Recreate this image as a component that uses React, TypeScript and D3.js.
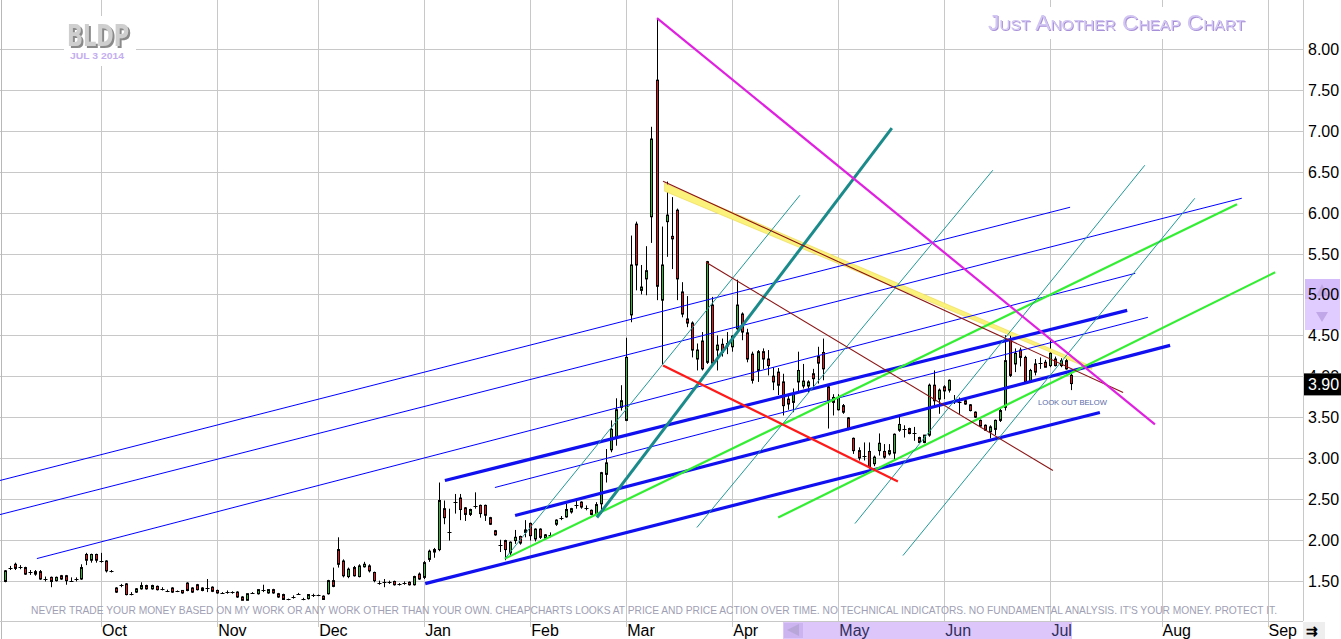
import React from "react";
import * as d3 from "d3";

const W = 1341;
const H = 639;
const START = -19;

// OHLC bars [open, high, low, close] per month (trading-day order)
const sepBars = [
  [1.49,1.63,1.48,1.62],[1.65,1.68,1.63,1.66],[1.70,1.72,1.63,1.65],[1.67,1.69,1.64,1.66],
  [1.66,1.67,1.57,1.58],[1.61,1.63,1.57,1.61],[1.58,1.63,1.56,1.61],[1.61,1.63,1.51,1.52],
  [1.52,1.55,1.49,1.51],[1.54,1.55,1.42,1.49],[1.50,1.55,1.49,1.54],[1.56,1.57,1.51,1.52],
  [1.56,1.57,1.45,1.50],[1.50,1.54,1.49,1.50],[1.52,1.54,1.49,1.53],[1.52,1.70,1.51,1.66],
  [1.82,1.84,1.69,1.75],[1.75,1.83,1.72,1.82],[1.82,1.83,1.72,1.75],
];
const octBars = [
  [1.75,1.84,1.72,1.74],[1.74,1.75,1.60,1.62],[1.62,1.63,1.60,1.62],[1.41,1.42,1.35,1.36],
  [1.44,1.46,1.42,1.45],[1.46,1.47,1.32,1.33],[1.34,1.36,1.32,1.34],[1.36,1.41,1.35,1.40],
  [1.40,1.48,1.39,1.44],[1.44,1.45,1.39,1.40],[1.40,1.45,1.39,1.44],[1.43,1.44,1.38,1.39],
  [1.40,1.42,1.38,1.40],[1.37,1.39,1.36,1.37],[1.41,1.42,1.35,1.36],[1.37,1.38,1.36,1.37],
  [1.38,1.38,1.34,1.35],[1.47,1.48,1.37,1.38],[1.41,1.42,1.35,1.36],[1.45,1.46,1.38,1.39],
  [1.41,1.42,1.37,1.38],[1.41,1.52,1.36,1.41],[1.42,1.43,1.36,1.37],
];
const novBars = [
  [1.38,1.39,1.34,1.35],[1.35,1.36,1.34,1.35],[1.36,1.38,1.34,1.36],[1.36,1.37,1.34,1.36],
  [1.36,1.37,1.29,1.30],[1.30,1.31,1.26,1.26],[1.26,1.34,1.26,1.34],[1.35,1.36,1.34,1.35],
  [1.34,1.39,1.33,1.39],[1.38,1.45,1.36,1.38],[1.35,1.39,1.34,1.39],[1.39,1.40,1.34,1.35],
  [1.34,1.35,1.29,1.30],[1.33,1.34,1.27,1.27],[1.27,1.28,1.26,1.27],[1.30,1.32,1.28,1.30],
  [1.34,1.35,1.33,1.34],[1.28,1.29,1.26,1.28],[1.28,1.33,1.27,1.33],[1.33,1.34,1.30,1.31],
];
const decBars = [
  [1.32,1.33,1.31,1.32],[1.31,1.32,1.27,1.27],[1.34,1.51,1.33,1.50],[1.50,1.66,1.42,1.43],
  [1.88,2.03,1.66,1.70],[1.74,1.76,1.54,1.56],[1.55,1.66,1.53,1.64],[1.66,1.68,1.55,1.56],
  [1.55,1.70,1.54,1.68],[1.67,1.73,1.66,1.70],[1.68,1.70,1.60,1.62],[1.60,1.61,1.48,1.50],
  [1.48,1.50,1.45,1.47],[1.48,1.52,1.42,1.48],[1.49,1.50,1.46,1.47],[1.49,1.50,1.44,1.45],
  [1.46,1.47,1.44,1.46],[1.46,1.49,1.45,1.48],[1.48,1.49,1.44,1.45],[1.45,1.56,1.44,1.55],
  [1.58,1.60,1.51,1.52],
];
const janBars = [
  [1.54,1.74,1.52,1.72],[1.76,1.88,1.73,1.86],[1.88,1.90,1.78,1.85],[1.88,2.70,1.86,2.48],
  [2.38,2.48,2.19,2.27],[2.09,2.38,1.99,2.10],[2.46,2.56,2.32,2.47],[2.51,2.56,2.24,2.37],
  [2.39,2.40,2.23,2.31],[2.31,2.38,2.29,2.37],[2.41,2.58,2.38,2.42],[2.42,2.43,2.27,2.32],
  [2.42,2.43,2.23,2.30],[2.27,2.28,2.18,2.19],[2.11,2.12,2.05,2.06],[1.93,2.00,1.85,1.93],
  [1.99,2.00,1.75,1.88],[1.84,1.98,1.80,1.97],[1.99,2.12,1.95,2.03],[2.04,2.05,1.94,1.96],
  [2.09,2.24,2.03,2.12],
];
const febBars = [
  [2.20,2.21,1.99,2.05],[2.01,2.14,1.98,2.13],[2.13,2.14,2.01,2.03],[2.02,2.07,2.00,2.06],
  [2.06,2.09,2.03,2.06],[2.19,2.25,2.17,2.24],[2.26,2.29,2.24,2.27],[2.28,2.44,2.27,2.37],
  [2.34,2.39,2.32,2.38],[2.42,2.48,2.38,2.42],[2.46,2.47,2.38,2.40],[2.39,2.42,2.36,2.39],
  [2.36,2.37,2.30,2.31],[2.31,2.46,2.30,2.43],[2.44,2.83,2.32,2.82],[2.80,3.11,2.70,2.94],
  [3.10,3.46,3.07,3.35],[3.25,3.73,3.15,3.59],[3.62,3.89,3.58,3.70],
];
const marBars = [
  [3.46,4.47,3.45,4.23],[4.75,5.72,4.66,5.36],[5.86,5.89,5.05,5.36],[5.05,5.36,5.00,5.09],
  [5.19,5.59,4.99,5.29],[5.95,7.05,5.63,6.90],[7.62,8.38,4.93,5.10],[4.93,5.83,4.15,5.36],
  [5.89,6.38,5.46,5.97],[5.71,6.19,5.31,5.68],[6.03,6.05,4.93,5.19],[5.03,5.15,4.72,4.76],
  [4.70,4.98,4.60,4.65],[4.65,4.67,4.23,4.32],[4.21,4.40,4.07,4.32],[4.43,4.54,4.07,4.09],
  [4.17,5.41,4.15,5.40],[4.87,4.97,4.14,4.16],[4.32,4.50,4.07,4.38],[4.39,4.46,4.24,4.29],
  [4.40,4.54,4.27,4.37],
];
const aprBars = [
  [4.36,4.50,4.30,4.49],[4.58,5.18,4.54,4.87],[4.76,4.78,4.44,4.54],[4.53,4.58,4.17,4.21],
  [4.27,4.30,3.91,3.95],[4.07,4.32,3.93,4.30],[4.30,4.34,4.09,4.21],[4.21,4.32,4.01,4.13],
  [4.00,4.11,3.83,3.93],[4.05,4.10,3.77,3.89],[3.93,4.03,3.52,3.64],[3.72,3.76,3.59,3.66],
  [3.68,3.85,3.56,3.79],[3.93,4.30,3.81,4.07],[3.88,4.15,3.85,3.94],[3.88,3.95,3.80,3.93],
  [4.03,4.09,3.87,3.97],[4.24,4.36,3.91,4.16],[4.29,4.46,3.95,4.09],[3.87,3.89,3.36,3.70],
  [3.68,3.78,3.52,3.74],
];
const mayBars = [
  [3.59,3.78,3.58,3.74],[3.64,3.66,3.54,3.56],[3.49,3.50,3.34,3.36],[3.24,3.25,3.05,3.09],
  [3.09,3.13,2.97,3.00],[3.03,3.19,2.97,3.03],[3.08,3.19,2.87,2.89],[2.93,3.03,2.90,3.01],
  [3.09,3.30,3.03,3.18],[3.08,3.17,2.99,3.01],[3.05,3.17,3.03,3.09],[3.06,3.30,2.97,3.29],
  [3.34,3.50,3.32,3.41],[3.36,3.40,3.25,3.36],[3.36,3.37,3.29,3.30],[3.30,3.38,3.21,3.30],
  [3.25,3.26,3.19,3.19],[3.19,3.28,3.18,3.28],[3.28,3.91,3.26,3.89],[3.89,4.07,3.64,3.70],
  [3.72,3.85,3.54,3.83],
];
const junBars = [
  [3.87,3.89,3.72,3.82],[3.83,3.96,3.80,3.95],[3.70,3.77,3.66,3.70],[3.70,3.74,3.54,3.68],
  [3.70,3.71,3.65,3.66],[3.65,3.66,3.57,3.58],[3.56,3.57,3.49,3.50],[3.46,3.47,3.38,3.39],
  [3.40,3.41,3.33,3.34],[3.32,3.40,3.24,3.38],[3.35,3.47,3.28,3.46],[3.46,3.60,3.44,3.58],
  [3.62,4.50,3.58,4.19],[4.44,4.50,3.99,4.01],[4.15,4.34,4.05,4.28],[4.32,4.35,4.12,4.23],
  [4.23,4.25,3.92,3.93],[3.93,4.09,3.92,4.07],[4.15,4.21,4.01,4.05],[4.16,4.23,4.09,4.16],
  [4.17,4.20,4.11,4.11],
];
const julBars = [
  [4.13,4.44,4.11,4.28],[4.21,4.24,4.12,4.13],[4.13,4.22,4.11,4.19],[4.19,4.22,4.08,4.09],
  [4.01,4.03,3.83,3.91],
];

const monthLabels = ["Oct","Nov","Dec","Jan","Feb","Mar","Apr","May","Jun","Jul","Aug","Sep"];
const monthStarts = [0,23,43,64,85,104,125,146,167,188,210,231];
const priceTicks = [1.5,2,2.5,3,3.5,4,4.5,5,5.5,6,6.5,7,7.5,8];
const lastPrice = 3.9;

// trend lines [index1, price1, index2, price2]
const thinBlueLines = [[-20,2.725,191.9,6.066],[-20,2.308,225.9,6.176],[-12.7,1.77,204.8,5.258],[78.0,2.639,207.3,4.72]];
const thickBlueLines = [[68.1,2.725,203.2,4.805],[82.0,2.296,211.7,4.377],[64.2,1.464,197.8,3.557]];
const greenLines = [[80,1.77,224.95,6.103],[134.1,2.272,232.5,5.27]];
const tealThickLines = [[98.2,2.272,156.6,7.033]];
const tealThinLines = [[80,1.77,138.4,6.213],[118,2.15,176.6,6.519],[149.3,2.198,206.7,6.58],[158.8,1.807,216.6,6.176]];
const redLines = [[111.3,4.132,157.8,2.712]];
const maroonLines = [[111.3,6.384,202.4,3.802],[119.8,5.393,188.5,2.847]];
const yellowBand = [111.6,6.36,196.2,4.12];
const magentaLines = [[110.1,8.38,208.7,3.41]];

const disclaimer = "NEVER TRADE YOUR MONEY BASED ON MY WORK OR ANY WORK OTHER THAN YOUR OWN. CHEAPCHARTS LOOKS AT PRICE AND PRICE ACTION OVER TIME. NO TECHNICAL INDICATORS. NO FUNDAMENTAL ANALYSIS. IT'S YOUR MONEY. PROTECT IT.";

const FONT = "'Liberation Sans', Arial, sans-serif";

export default function App() {
  const x = d3.scaleLinear().domain([0, 231]).range([101, 101 + 231 * 5.05]);
  const y = d3.scaleLinear().domain([1.5, 8]).range([580.65, 49.1]);
  const all = [...sepBars, ...octBars, ...novBars, ...decBars, ...janBars, ...febBars, ...marBars, ...aprBars, ...mayBars, ...junBars, ...julBars];
  const bars = all.map((d, k) => ({ i: START + k, o: d[0], h: d[1], l: d[2], c: d[3] }));
  const PR = 1303;
  const AX = 621;

  const seg = (arr: number[][], stroke: string, sw: number, key: string) =>
    arr.map((d, k) => (
      <line key={key + k} x1={x(d[0])} y1={y(d[1])} x2={x(d[2])} y2={y(d[3])} stroke={stroke} strokeWidth={sw} />
    ));

  const yb = yellowBand;
  const bandPts = [
    [x(yb[0]), y(yb[1])],
    [x(yb[2]), y(yb[3])],
    [x(yb[2]), y(yb[3]) + 3],
    [x(yb[0]), y(yb[1]) + 8],
  ].map((p) => p.join(",")).join(" ");

  return (
    <div style={{ position: "fixed", left: 0, top: 0, width: W, height: H, background: "#fff" }}>
      <svg width={W} height={H} style={{ display: "block" }}>
        <defs>
          <filter id="shadowGray" x="-10%" y="-20%" width="130%" height="150%">
            <feDropShadow dx="2" dy="2" stdDeviation="0" floodColor="#8a8a8a" floodOpacity="1" />
          </filter>
          <filter id="shadowLav" x="-5%" y="-20%" width="110%" height="150%">
            <feDropShadow dx="1" dy="1" stdDeviation="0" floodColor="#a890d8" floodOpacity="1" />
          </filter>
          <clipPath id="above390">
            <rect x={1300} y={0} width={41} height={y(lastPrice) - 11} />
          </clipPath>
        </defs>
        <rect width={W} height={H} fill="#fff" />
        {/* grid */}
        {priceTicks.map((p) => (
          <line key={"h" + p} x1={0} x2={PR} y1={Math.round(y(p)) + 0.5} y2={Math.round(y(p)) + 0.5} stroke="#c8c8c8" />
        ))}
        {monthStarts.map((m) => (
          <line key={"v" + m} x1={Math.round(x(m)) + 0.5} x2={Math.round(x(m)) + 0.5} y1={0} y2={AX + 6} stroke="#c8c8c8" />
        ))}
        <line x1={1.5} x2={1.5} y1={0} y2={AX + 18} stroke="#b8b8b8" />
        <line x1={PR + 0.5} x2={PR + 0.5} y1={0} y2={AX} stroke="#c8c8c8" />
        <line x1={0} x2={PR} y1={AX + 0.5} y2={AX + 0.5} stroke="#c8c8c8" />

        {/* watermarks */}
        <rect x={64} y={16} width={72} height={50} fill="#fff" />
        <text x={67} y={46} fontFamily="'DejaVu Sans', Arial" fontWeight="bold" fontSize={31} fill="#cfcfcf" filter="url(#shadowGray)" textLength={62} lengthAdjust="spacingAndGlyphs">BLDP</text>
        <text x={70} y={59} fontFamily={FONT} fontWeight="bold" fontSize={9} fill="#c4aef0" textLength={54} lengthAdjust="spacingAndGlyphs">JUL 3 2014</text>
        <rect x={978} y={7} width={282} height={32} fill="#fff" />
        <text x={988} y={30} fontFamily={FONT} fontSize={22} style={{ fontVariant: "small-caps" }} fill="#d2c6f2" filter="url(#shadowLav)" textLength={257} lengthAdjust="spacingAndGlyphs">Just Another Cheap Chart</text>

        {/* candles */}
        {bars.map((b) => {
          const cx = Math.round(x(b.i)) + 0.5;
          const up = b.c >= b.o;
          const top = y(Math.max(b.o, b.c));
          const bot = y(Math.min(b.o, b.c));
          const doji = bot - top < 2;
          return (
            <g key={"b" + b.i}>
              <line x1={cx} x2={cx} y1={y(b.h)} y2={y(b.l)} stroke="#000" strokeWidth={1} />
              {doji ? (
                <line x1={cx - 2} x2={cx + 2} y1={Math.round((top + bot) / 2) + 0.5} y2={Math.round((top + bot) / 2) + 0.5} stroke="#000" />
              ) : (
                <rect x={cx - 1} y={top} width={2} height={bot - top} fill={up ? "#2db82d" : "#e8141b"} stroke="#000" strokeWidth={1} />
              )}
            </g>
          );
        })}

        {/* drawn lines */}
        <polygon points={bandPts} fill="#fbf27c" stroke="#e8d040" strokeWidth={0.5} />
        {seg(thinBlueLines, "#0000ff", 1, "tb")}
        {seg(thickBlueLines, "#1010f0", 3.2, "kb")}
        {seg(greenLines, "#33ee33", 2.2, "g")}
        {seg(tealThinLines, "#1f9999", 1, "tt")}
        {seg(tealThickLines, "#1a8a8a", 3, "tk")}
        {seg(redLines, "#ff1a1a", 2.3, "r")}
        {seg(maroonLines, "#8b1414", 1.1, "m")}
        {seg(magentaLines, "#e020e0", 2.2, "mg")}

        <text x={1038} y={405} fontFamily={FONT} fontSize={8} fill="#5868a8" textLength={69} lengthAdjust="spacingAndGlyphs">LOOK OUT BELOW</text>

        {/* disclaimer */}
        <text x={31} y={614} fontFamily={FONT} fontSize={10.5} fill="#a0a0b4" textLength={1246} lengthAdjust="spacingAndGlyphs">{disclaimer}</text>

        {/* bottom scroller */}
        <rect x={783} y={AX + 1} width={289} height={H - AX - 1} fill="#dcc6fa" />
        <rect x={784} y={AX + 2} width={19} height={H - AX - 3} fill="#ccb4f0" />
        <polygon points="787,630 799,624 799,636" fill="#b8a6d8" />
        <rect x={1303} y={AX + 1} width={22} height={H - AX - 1} fill="#eeeeee" />
        <text x={1306} y={636} fontFamily={FONT} fontSize={14} fontWeight="bold" fill="#000">⇉</text>

        {/* month labels */}
        {monthStarts.map((m, k) => (
          <text key={"ml" + m} x={x(m) + 1} y={636} fontFamily={FONT} fontSize={16} fill={k >= 7 && k <= 9 ? "#2e2e5a" : "#000"}>
            {monthLabels[k]}
          </text>
        ))}

        {/* price axis */}
        <rect x={1305} y={279} width={35} height={51} fill="#e0ccff" />
        <rect x={1305} y={279} width={35} height={20} fill="#d4bcfa" />
        <polygon points="1316,296 1322,284 1328,296" fill="#c0a8e8" />
        <polygon points="1316,312 1328,312 1322,322" fill="#c0a8e8" />
        {priceTicks.map((p) => (
          <text key={"pl" + p} x={1308} y={y(p) + 6} fontFamily={FONT} fontSize={16} fill="#000" clipPath={p === 4 ? "url(#above390)" : undefined}>
            {p.toFixed(2)}
          </text>
        ))}
        <rect x={1304} y={y(lastPrice) - 11} width={37} height={22} fill="#000" />
        <text x={1308} y={y(lastPrice) + 6} fontFamily={FONT} fontSize={16} fill="#fff">{lastPrice.toFixed(2)}</text>
      </svg>
    </div>
  );
}
